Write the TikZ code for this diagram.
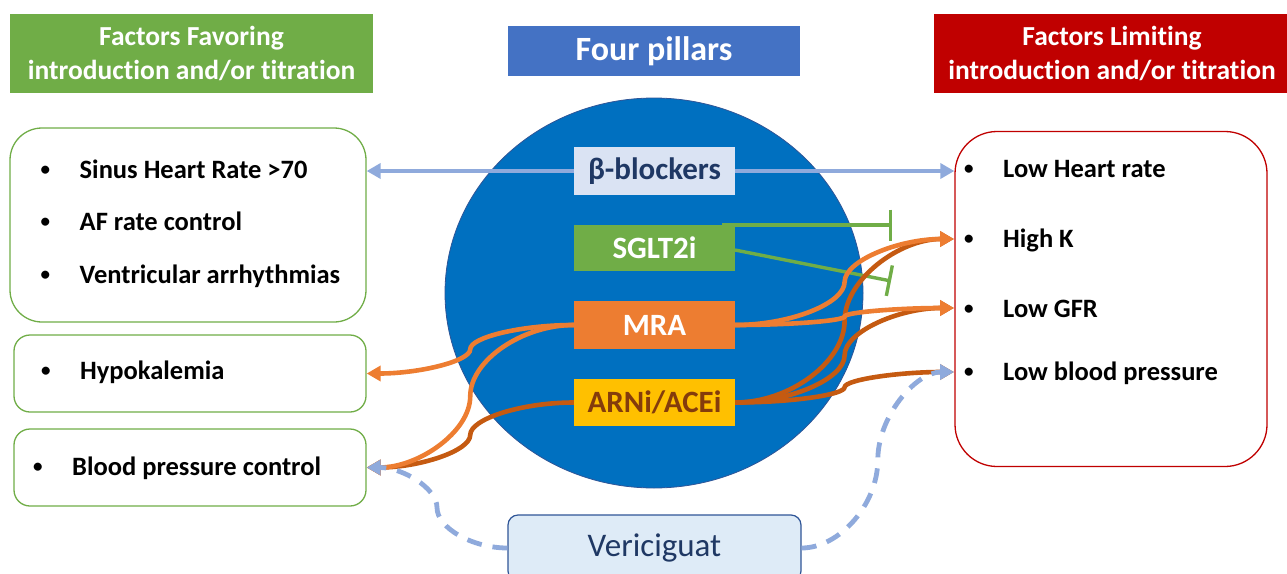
\documentclass[tikz,border=0pt]{standalone}
\usepackage{fontspec}
\setmainfont[Ligatures={NoCommon}]{Carlito}
\usetikzlibrary{shapes.geometric,arrows.meta,calc}
\definecolor{cGreen}{HTML}{70AD47}
\definecolor{cRed}{HTML}{C00000}
\definecolor{cHdrBlue}{HTML}{4472C4}
\definecolor{cCircle}{HTML}{0070C0}
\definecolor{cCircleLine}{HTML}{2F5597}
\definecolor{cBBfill}{HTML}{DAE3F3}
\definecolor{cNavy}{HTML}{1F3864}
\definecolor{cOrange}{HTML}{ED7D31}
\definecolor{cDarkOrange}{HTML}{C55A11}
\definecolor{cGold}{HTML}{FFC000}
\definecolor{cBrown}{HTML}{843C0C}
\definecolor{cLightBlue}{HTML}{8FAADC}
\definecolor{cVerFill}{HTML}{DEEBF7}
\newcommand\bul{\makebox[41pt][l]{\hspace{2pt}\raisebox{2.3pt}{\fontsize{19}{20}\selectfont •}}}
\newcommand\ccon[3]{%
  \draw[#1] let \p1=(#2), \p2=(#3) in (\p1)
    .. controls ({\x1+0.25*(\x2-\x1)},{\y1}) and ({0.5*(\x1+\x2)},{\y1+0.25*(\y2-\y1)})
    .. ({0.5*(\x1+\x2)},{0.5*(\y1+\y2)})
    .. controls ({0.5*(\x1+\x2)},{\y1+0.75*(\y2-\y1)}) and ({\x1+0.75*(\x2-\x1)},{\y2})
    .. (\p2);}
\tikzset{
  hdrbox/.style={inner sep=0pt, text=white, font=\fontsize{27.5}{33.5}\selectfont\bfseries, align=center},
  pillbox/.style={inner sep=0pt, minimum width=161pt, font=\fontsize{31}{36}\selectfont\bfseries},
  favbox/.style={draw=cGreen, line width=1.3pt, fill=white},
  limbox/.style={draw=cRed, line width=1.3pt, fill=white, rounded corners=42pt},
  item/.style={anchor=base west, inner sep=0pt, font=\fontsize{26.5}{30}\selectfont\bfseries},
  bbline/.style={draw=cLightBlue, line width=4.5pt, -{Triangle[length=14pt,width=15pt]}},
  mraline/.style={draw=cOrange, line width=4.6pt, -{Triangle[length=14pt,width=15pt]}},
  arniline/.style={draw=cDarkOrange, line width=4.6pt, -{Triangle[length=14pt,width=15pt]}},
  verline/.style={draw=cLightBlue, line width=4.8pt, dash pattern=on 15pt off 11pt, -{Triangle[length=14pt,width=15pt]}},
  sgline/.style={draw=cGreen, line width=3.4pt, -{Bar[width=31pt,line width=3.4pt]}},
}
\begin{document}
\begin{tikzpicture}[x=1pt,y=-1pt]
\useasboundingbox (0,0) rectangle (1287,573);

% headers
\node[hdrbox, fill=cGreen, minimum width=363pt, minimum height=79pt] (hfav) at (191.5,53.5) {Factors Favoring\\introduction and/or titration};
\node[hdrbox, fill=cRed, minimum width=356pt, minimum height=79pt] (hlim) at (1112,53.5) {Factors Limiting\\introduction and/or titration};
\node[hdrbox, fill=cHdrBlue, minimum width=292pt, minimum height=50pt, font=\fontsize{34}{40}\selectfont\bfseries] (hpil) at (654,51) {Four pillars};

% central circle
\node[ellipse, fill=cCircle, draw=cCircleLine, line width=0.8pt, inner sep=0pt, minimum width=418pt, minimum height=390pt] (circ) at (654,293) {};

% left boxes
\node[favbox, rounded corners=32pt, minimum width=356pt, minimum height=194pt] (fav1) at (188,225) {};
\node[favbox, rounded corners=16pt, minimum width=352pt, minimum height=77pt] (hypo) at (190,373.5) {};
\node[favbox, rounded corners=16pt, minimum width=352pt, minimum height=77pt] (bpc) at (190,467.5) {};
\node[item] (f1) at (38.5,178) {\bul Sinus Heart Rate >70};
\node[item] (f2) at (38.5,230) {\bul AF rate control};
\node[item] (f3) at (38.5,283) {\bul Ventricular arrhythmias};
\node[item] (f4) at (39,379) {\bul Hypokalemia};
\node[item] (f5) at (31,475) {\bul Blood pressure control};

% right box
\node[limbox, minimum width=312pt, minimum height=335pt] (lim) at (1111,299) {};
\node[item] (l1) at (962,177) {\bul Low Heart rate};
\node[item] (l2) at (962,247) {\bul High K};
\node[item] (l3) at (962,317) {\bul Low GFR};
\node[item] (l4) at (962,380) {\bul Low blood pressure};
\coordinate (tHK) at (954,239);
\coordinate (tGFR) at (954,308);
\coordinate (tLBP) at (954,372);

% pillars
\node[pillbox, fill=cBBfill, text=cNavy, minimum height=48pt] (bb) at (654.5,171) {β-blockers};
\node[pillbox, fill=cGreen, text=white, minimum height=46pt] (sg) at (654.5,248) {SGLT2i};
\node[pillbox, fill=cOrange, text=white, minimum height=48pt] (mra) at (654.5,325) {MRA};
\node[pillbox, fill=cGold, text=cBrown, minimum height=47pt] (arni) at (654.5,402.5) {ARNi/ACEi};

% vericiguat
\node[draw=cCircleLine, line width=1.2pt, fill=cVerFill, rounded corners=10pt, minimum width=293pt, minimum height=66pt, inner sep=0pt, text=cNavy, font=\fontsize{33}{38}\selectfont] (ver) at (654.5,548) {Vericiguat};

% beta-blocker arrows
\draw[bbline] (bb.west) -- (fav1.east |- bb.west);
\draw[bbline] (bb.east) -- (lim.west |- bb.east);

% SGLT2i inhibitions
\coordinate (sgA) at (722,225);
\coordinate (sgB) at (735,250);
\coordinate (barA) at (892,225);
\coordinate (barB) at (891,281);
\draw[sgline] (sgA) -- (barA);
\draw[sgline] (sgB) -- (barB);

% ARNi connectors
\ccon{arniline}{arni.west}{bpc.east}
\ccon{arniline}{arni.east}{tHK}
\ccon{arniline}{arni.east}{tGFR}
\ccon{arniline}{arni.east}{tLBP}

% MRA connectors
\ccon{mraline}{mra.west}{hypo.east}
\ccon{mraline}{mra.west}{bpc.east}
\ccon{mraline}{mra.east}{tHK}
\ccon{mraline}{mra.east}{tGFR}

% vericiguat connectors
\ccon{verline}{ver.west}{bpc.east}
\ccon{verline}{ver.east}{tLBP}
\end{tikzpicture}
\end{document}
